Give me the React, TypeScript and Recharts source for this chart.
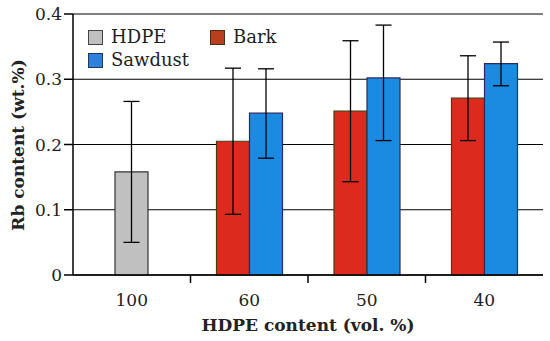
import { ComposedChart, Bar, XAxis, YAxis, CartesianGrid, ErrorBar } from 'recharts';

const categories = ['100', '60', '50', '40'];
const hdpe = [0.158, null, null, null];
const hdpeErr = [0.108, null, null, null];
const bark = [null, 0.205, 0.251, 0.271];
const barkErr = [null, 0.112, 0.108, 0.065];
const sawdust = [null, 0.248, 0.302, 0.324];
// lower / upper error
const sawdustErr: ([number, number] | null)[] = [null, [0.069, 0.068], [0.096, 0.081], [0.034, 0.033]];
const yTicks = [0, 0.1, 0.2, 0.3, 0.4];

const FONT = '"DejaVu Serif", serif';

const data = categories.map((c, i) => ({
    cat: c,
    hdpe: hdpe[i],
    hdpeErr: hdpeErr[i],
    bark: bark[i],
    barkErr: barkErr[i],
    sawdust: sawdust[i],
    sawdustErr: sawdustErr[i],
}));

const legendItems = [
    { name: 'HDPE', fill: '#c0c0c0', border: '#444', left: 0, top: 0 },
    { name: 'Bark', fill: '#b8401f', border: '#4a3010', left: 122, top: 0 },
    { name: 'Sawdust', fill: '#2f7fdc', border: '#1e3a5a', left: 0, top: 23 },
];

const XTick = (props: any) => {
    const { x, y, payload, index } = props;
    const half = payload.offset || 0;
    return (
        <g>
            <text x={x} y={y + 23} textAnchor="middle" fontFamily={FONT} fontSize={17} fill="#222">
                {payload.value}
            </text>
            {index < categories.length - 1 && (
                <line x1={x + half} x2={x + half} y1={y - 8} y2={y} stroke="#000" strokeWidth={1.5} />
            )}
        </g>
    );
};

const LegendBox = () => (
    <div style={{ position: 'absolute', left: 88, top: 26, width: 200, height: 48, fontFamily: FONT, fontSize: 18, color: '#222' }}>
        {legendItems.map((it) => (
            <div key={it.name} style={{ position: 'absolute', left: it.left, top: it.top, display: 'flex', alignItems: 'center', lineHeight: '22px' }}>
                <span style={{ display: 'inline-block', width: 13, height: 13, background: it.fill, border: `1.5px solid ${it.border}`, marginRight: 8 }} />
                {it.name}
            </div>
        ))}
    </div>
);

export default function App() {
    return (
        <div style={{ position: 'absolute', left: 0, top: 0, width: 550, height: 341, background: '#fff' }}>
            <ComposedChart width={550} height={341} data={data} margin={{ top: 14, right: 7, bottom: 0, left: 0 }} barGap={0}>
                <CartesianGrid vertical={false} stroke="#000" strokeWidth={1.2} />
                <XAxis
                    dataKey="cat"
                    height={66}
                    axisLine={{ stroke: '#000', strokeWidth: 1.5 }}
                    tickLine={false}
                    tick={<XTick />}
                    label={{
                        content: ({ viewBox }: any) => (
                            <text x={viewBox.x + viewBox.width / 2} y={viewBox.y + 56} textAnchor="middle" fontFamily={FONT} fontWeight="bold" fontSize={17} fill="#222">
                                HDPE content (vol. %)
                            </text>
                        ),
                    }}
                />
                <XAxis xAxisId="h" dataKey="cat" orientation="top" height={0} tick={false} tickLine={false} axisLine={{ stroke: '#000', strokeWidth: 1.5 }} />
                <YAxis
                    domain={[0, 0.4]}
                    ticks={yTicks}
                    width={73}
                    tickSize={9}
                    tickMargin={2}
                    axisLine={{ stroke: '#000', strokeWidth: 1.5 }}
                    tickLine={{ stroke: '#000', strokeWidth: 1.5 }}
                    tick={{ fontFamily: FONT, fontSize: 17, fill: '#222' }}
                    label={{
                        content: () => (
                            <text x={24} y={145} transform="rotate(-90, 24, 145)" textAnchor="middle" fontFamily={FONT} fontWeight="bold" fontSize={17} fill="#222">
                                Rb content (wt.%)
                            </text>
                        ),
                    }}
                />
                <YAxis yAxisId="r" orientation="right" domain={[0, 0.4]} width={0} tick={false} tickLine={false} axisLine={{ stroke: '#000', strokeWidth: 1.5 }} />
                <Bar xAxisId="h" dataKey="hdpe" name="HDPE" fill="#c0c0c0" stroke="#333" strokeWidth={1.2} barSize={33} isAnimationActive={false}>
                    <ErrorBar dataKey="hdpeErr" width={8} stroke="#000" strokeWidth={1.3} />
                </Bar>
                <Bar dataKey="bark" name="Bark" fill="#dc2a1e" stroke="#4a3a10" strokeWidth={1.2} barSize={33} isAnimationActive={false}>
                    <ErrorBar dataKey="barkErr" width={8} stroke="#000" strokeWidth={1.3} />
                </Bar>
                <Bar dataKey="sawdust" name="Sawdust" fill="#1a8be0" stroke="#2a2a60" strokeWidth={1.2} barSize={33} isAnimationActive={false}>
                    <ErrorBar dataKey="sawdustErr" width={8} stroke="#000" strokeWidth={1.3} />
                </Bar>
            </ComposedChart>
            <LegendBox />
        </div>
    );
}
